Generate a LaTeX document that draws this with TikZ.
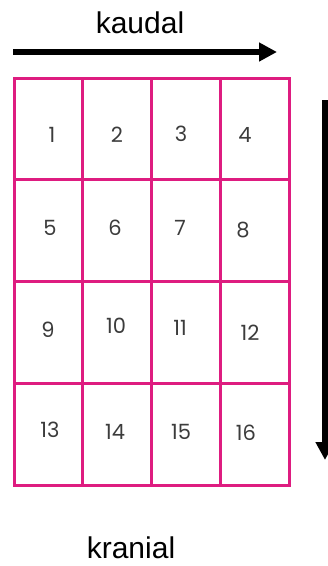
\documentclass[tikz,border=0pt]{standalone}
\usepackage{fontspec}
\setmainfont{Liberation Sans}
\newfontfamily\numfont{Poppins}
\usetikzlibrary{arrows.meta}
\definecolor{gridpink}{RGB}{222,28,128}
\definecolor{numgray}{RGB}{60,60,60}
\begin{document}
\begin{tikzpicture}[x=1pt,y=-1pt,
  cellbox/.style={draw=gridpink,line width=3pt,minimum width=68.75pt,minimum height=101.75pt,inner sep=0pt,fill=white},
  numlabel/.style={font=\numfont\fontsize{21}{21}\selectfont,text=numgray,inner sep=0pt},
  dirlabel/.style={font=\fontsize{30}{30}\selectfont,inner sep=0pt},
  dirarrow/.style={line width=6pt,-{Triangle[length=18pt,width=18pt]}}]
\useasboundingbox (0,0) rectangle (328,566);
% cells
\foreach \r in {0,1,2,3}{
  \foreach \c in {0,1,2,3}{
    \pgfmathtruncatemacro{\idx}{\r*4+\c+1}
    \node[cellbox] (cell\idx) at ({14+68.75*(\c+0.5)},{78+101.75*(\r+0.5)}) {};
  }
}
% numbers
\node[numlabel] (n1) at (52,135) {1};
\node[numlabel] (n2) at (117,135) {2};
\node[numlabel] (n3) at (181,134) {3};
\node[numlabel] (n4) at (245,135) {4};
\node[numlabel] (n5) at (50,228) {5};
\node[numlabel] (n6) at (115,228) {6};
\node[numlabel] (n7) at (180,228) {7};
\node[numlabel] (n8) at (243,230) {8};
\node[numlabel] (n9) at (48,330) {9};
\node[numlabel] (n10) at (116,326) {10};
\node[numlabel] (n11) at (180,328) {11};
\node[numlabel] (n12) at (250,333) {12};
\node[numlabel] (n13) at (50,430) {13};
\node[numlabel] (n14) at (115,432) {14};
\node[numlabel] (n15) at (181,432) {15};
\node[numlabel] (n16) at (246,433) {16};
% labels
\node[dirlabel] (kaudal) at (140,23) {kaudal};
\node[dirlabel] (kranial) at (131,548) {kranial};
% arrows
\coordinate (hs) at (13,52);
\coordinate (he) at (277,52);
\draw[dirarrow] (hs) -- (he);
\coordinate (vs) at (325,100);
\coordinate (ve) at (325,460);
\draw[dirarrow] (vs) -- (ve);
\end{tikzpicture}
\end{document}
